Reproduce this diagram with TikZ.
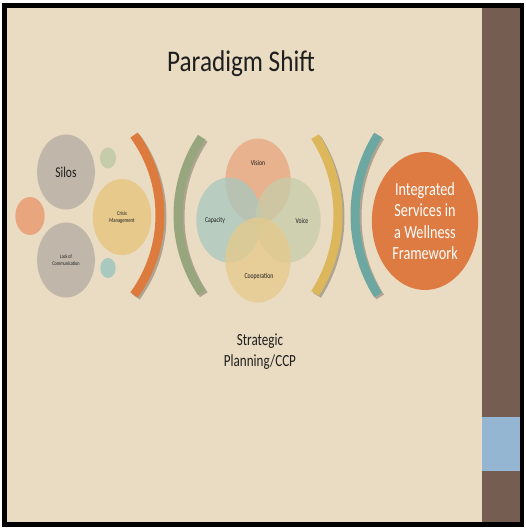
\documentclass[tikz,border=0pt]{standalone}
\usepackage{fontspec}
\setmainfont{Carlito}
\definecolor{slidebg}{HTML}{EADCC2}
\definecolor{sidebar}{HTML}{765D52}
\definecolor{sideblue}{HTML}{94B6D3}
\definecolor{silogray}{HTML}{C0B6AA}
\definecolor{softorange}{HTML}{E9A57D}
\definecolor{softgreen}{HTML}{C6CCA9}
\definecolor{softteal}{HTML}{A8C8C0}
\definecolor{softgold}{HTML}{E6C98B}
\definecolor{arcorange}{HTML}{DD7A3D}
\definecolor{arcgreen}{HTML}{97A67D}
\definecolor{arcgold}{HTML}{DDB75B}
\definecolor{arcteal}{HTML}{6DA7A1}
\definecolor{goalorange}{HTML}{DE7B42}
\definecolor{textdark}{HTML}{1E1E1E}
\usepackage{tikz}
\usetikzlibrary{positioning,calc}

\begin{document}
\begin{tikzpicture}[x=1pt, y=-1pt, text=textdark,
    slide/.style={xscale=0.77},
    bubble/.style={slide, circle, inner sep=0pt, align=center},
    venn/.style={bubble, minimum size=85, fill opacity=0.75},
    band/.style={line width=9, line cap=butt},
    bandshadow/.style={band, draw=black, opacity=0.25}]

  \useasboundingbox (0,0) rectangle (526,531);
  \fill[white] (0,0) rectangle (526,531);
  \fill[black] (2,3) rectangle (524,527);
  \fill[slidebg] (7,8) rectangle (482,522);
  \fill[sidebar] (482,8) rectangle (520,522);
  \fill[sideblue] (482,417) rectangle (520,471);

  \node[xscale=0.84, font=\fontsize{30}{33}\selectfont] (title) at (241,64) {Paradigm Shift};

  \node[bubble, fill=softorange, minimum size=38] (dot1) at (30,216) {};
  \node[bubble, fill=silogray, minimum size=75, font=\fontsize{15}{17}\selectfont] (silos) at (66,172) {Silos};
  \node[bubble, fill=silogray, minimum size=75, font=\fontsize{5.5}{6.5}\selectfont] (lack) at (66,260) {Lack of\\Communication};
  \node[bubble, fill=softgreen, minimum size=21] (dot2) at (108,158) {};
  \node[bubble, fill=softteal, minimum size=20] (dot3) at (108,268) {};
  \node[bubble, fill=softgold, minimum size=76, font=\fontsize{6}{7}\selectfont] (crisis) at (122,217) {Crisis\\Management};

  \draw[bandshadow] (26,217) ++(-36:136) arc[start angle=-36, end angle=36, radius=136];
  \draw[band, arcorange] (24,215) ++(-36:136) arc[start angle=-36, end angle=36, radius=136];
  \draw[bandshadow] (319,217) ++(146:139) arc[start angle=146, end angle=214, radius=139];
  \draw[band, arcgreen] (317,215) ++(146:139) arc[start angle=146, end angle=214, radius=139];

  \node[venn, fill=softorange] (vision) at (258,181) {};
  \node[venn, fill=softteal] (capacity) at (229,220) {};
  \node[venn, fill=softgreen] (voice) at (288,220) {};
  \node[venn, fill=softgold] (cooperation) at (258,260) {};
  \node[slide, font=\fontsize{7.5}{9}\selectfont] (visiontxt) at (258,163) {Vision};
  \node[slide, font=\fontsize{7.5}{9}\selectfont] (capacitytxt) at (215,221) {Capacity};
  \node[slide, font=\fontsize{7.5}{9}\selectfont] (voicetxt) at (302,221) {Voice};
  \node[slide, font=\fontsize{7.5}{9}\selectfont] (cooperationtxt) at (259,277) {Cooperation};

  \draw[bandshadow] (194.5,217) ++(-32.6:145.5) arc[start angle=-32.6, end angle=32.6, radius=145.5];
  \draw[band, arcgold] (192.5,215) ++(-32.6:145.5) arc[start angle=-32.6, end angle=32.6, radius=145.5];
  \draw[bandshadow] (507.6,217) ++(147.9:150.6) arc[start angle=147.9, end angle=212.1, radius=150.6];
  \draw[band, arcteal] (505.6,215) ++(147.9:150.6) arc[start angle=147.9, end angle=212.1, radius=150.6];

  \node[bubble, fill=goalorange, minimum size=138, text=white,
        font=\fontsize{18.5}{21.5}\selectfont] (goal) at (425,221)
        {Integrated\\Services in\\a Wellness\\Framework};

  \node[slide, align=center, font=\fontsize{17}{21}\selectfont] (planning) at (260,352)
        {Strategic\\Planning/CCP};
\end{tikzpicture}
\end{document}
